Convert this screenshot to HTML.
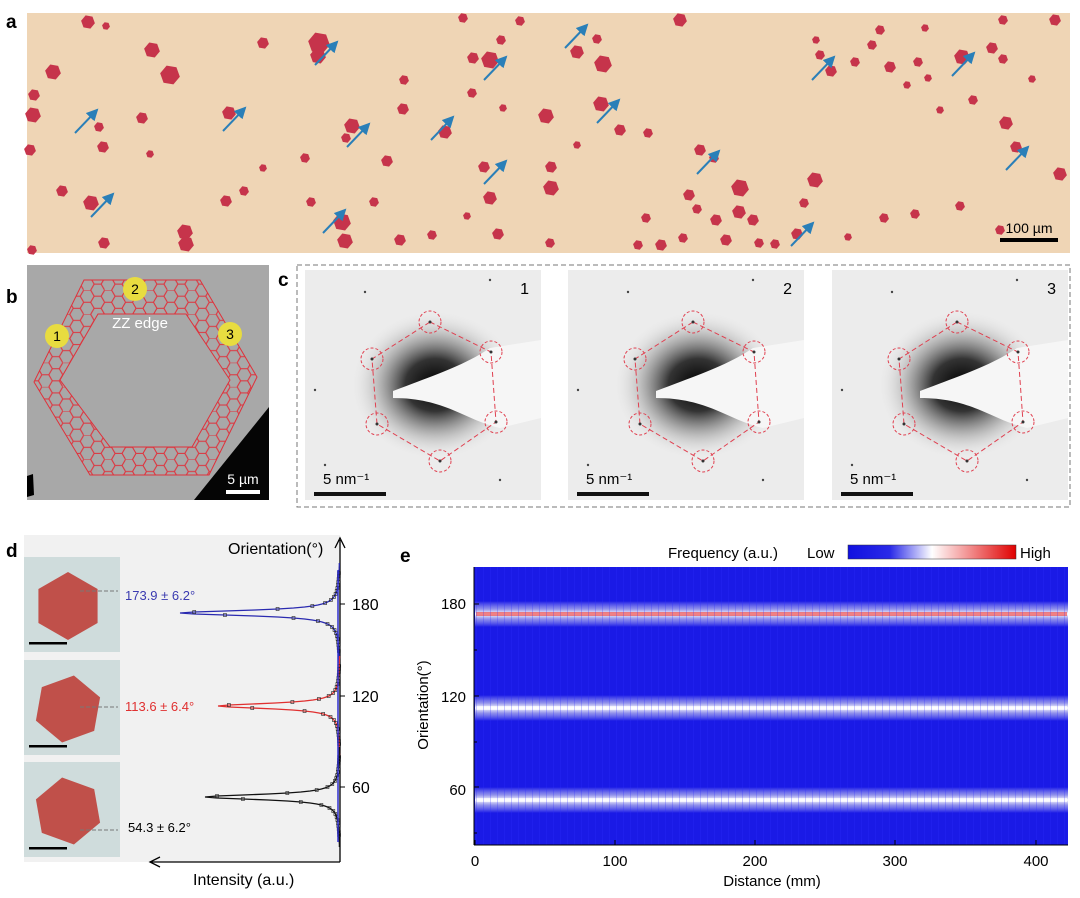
<!DOCTYPE html>
<html><head><meta charset="utf-8"><style>
html,body{margin:0;padding:0;background:#fff;}
svg{display:block;font-family:"Liberation Sans",Arial,sans-serif;}
</style></head><body>
<svg id="s" width="1080" height="898" viewBox="0 0 1080 898" xmlns="http://www.w3.org/2000/svg">
<defs>
<symbol id="hx" viewBox="-1 -1 2 2" overflow="visible"><polygon points="1,0 0.5,0.87 -0.5,0.87 -1,0 -0.5,-0.87 0.5,-0.87"/></symbol>
<marker id="ab" markerWidth="6" markerHeight="6" refX="5" refY="3" orient="auto"><path d="M0,0 L6,3 L0,6 z" fill="#2a7fb8"/></marker>
<pattern id="hc" width="13.5" height="15.6" patternUnits="userSpaceOnUse" patternTransform="scale(1.55)">
<path d="M0,0 L4.5,0 L6.75,3.9 L4.5,7.8 L0,7.8 M6.75,3.9 L11.25,3.9 L13.5,7.8 L11.25,11.7 L6.75,11.7 L4.5,15.6 M4.5,7.8 L6.75,11.7 M11.25,3.9 L13.5,0 M11.25,11.7 L13.5,15.6 M0,7.8 L-2.25,11.7" fill="none" stroke="#e0303a" stroke-width="0.7"/>
</pattern>
<radialGradient id="blob" cx="0.5" cy="0.5" r="0.5"><stop offset="0" stop-color="#000"/><stop offset="0.35" stop-color="#333"/><stop offset="0.7" stop-color="#aaa" stop-opacity="0.6"/><stop offset="1" stop-color="#eee" stop-opacity="0"/></radialGradient>
<linearGradient id="cb" x1="0" x2="1"><stop offset="0" stop-color="#1010e0"/><stop offset="0.25" stop-color="#2a2ae8"/><stop offset="0.5" stop-color="#fff"/><stop offset="0.75" stop-color="#f08080"/><stop offset="1" stop-color="#e00000"/></linearGradient>
<linearGradient id="band" x1="0" y1="0" x2="0" y2="1"><stop offset="0" stop-color="#fff" stop-opacity="0"/><stop offset="0.3" stop-color="#dde" stop-opacity="0.6"/><stop offset="0.5" stop-color="#fff"/><stop offset="0.7" stop-color="#dde" stop-opacity="0.6"/><stop offset="1" stop-color="#fff" stop-opacity="0"/></linearGradient>
<clipPath id="ring"><path clip-rule="evenodd" d="M84,280 L200,280 L257,377 L209,475 L90,475 L34,382 Z M98,314 L186,314 L230,380 L192,447 L110,447 L60,380 Z"/></clipPath>
</defs>

<!-- a -->
<text x="6" y="28" font-size="19" font-weight="bold">a</text>
<rect x="27" y="13" width="1043" height="240" fill="#efd5b5"/>
<g id="hexes" fill="#c6344b"></g>
<g id="arrows" stroke="#2a7fb8" stroke-width="2" marker-end="url(#ab)"></g>
<rect x="1000" y="238" width="58" height="4" fill="#000"/>
<text x="1029" y="233" font-size="14" text-anchor="middle">100 µm</text>

<!-- b -->
<text x="6" y="303" font-size="19" font-weight="bold">b</text>
<rect x="27" y="265" width="242" height="235" fill="#a8a8a8"/>
<polygon points="194,500 269,407 269,500" fill="#050505"/>
<path d="M27,476 L33,474 L34,495 L27,497Z" fill="#000"/>
<rect x="27" y="265" width="242" height="235" fill="url(#hc)" clip-path="url(#ring)"/>
<path fill="none" stroke="#e0303a" stroke-width="1" d="M84,280 L200,280 L257,377 L209,475 L90,475 L34,382 Z M98,314 L186,314 L230,380 L192,447 L110,447 L60,380 Z"/>
<text x="140" y="328" font-size="15" fill="#fff" text-anchor="middle">ZZ edge</text>
<g font-size="14" text-anchor="middle">
<circle cx="57" cy="336" r="12" fill="#e8dc40"/><text x="57" y="341">1</text>
<circle cx="135" cy="289" r="12" fill="#e8dc40"/><text x="135" y="294">2</text>
<circle cx="230" cy="334" r="12" fill="#e8dc40"/><text x="230" y="339">3</text>
</g>
<rect x="226" y="490" width="34" height="4" fill="#fff"/>
<text x="243" y="484" font-size="14" fill="#fff" text-anchor="middle">5 µm</text>

<!-- c -->
<text x="278" y="286" font-size="19" font-weight="bold">c</text>
<rect x="297" y="265" width="773" height="242" fill="none" stroke="#777" stroke-dasharray="5,3"/>
<g id="diff"></g>

<!-- d -->
<text x="6" y="557" font-size="19" font-weight="bold">d</text>
<rect x="24" y="535" width="316" height="327" fill="#f1f1f1"/>
<g id="ins"></g>
<line x1="340" y1="862" x2="340" y2="540" stroke="#000" stroke-width="1.3"/>
<path d="M335,548 L340,538 L345,548" fill="none" stroke="#000" stroke-width="1.3"/>
<line x1="340" y1="862" x2="150" y2="862" stroke="#000" stroke-width="1.3"/>
<path d="M160,857 L150,862 L160,867" fill="none" stroke="#000" stroke-width="1.3"/>
<g stroke="#000"><line x1="340" y1="604" x2="345" y2="604"/><line x1="340" y1="696" x2="345" y2="696"/><line x1="340" y1="787" x2="345" y2="787"/></g>
<g font-size="16"><text x="352" y="610">180</text><text x="352" y="702">120</text><text x="352" y="793">60</text></g>
<text x="228" y="554" font-size="16">Orientation(°)</text>
<text x="193" y="885" font-size="16">Intensity (a.u.)</text>
<text x="125" y="600" font-size="13" fill="#3a3ab0">173.9 ± 6.2°</text>
<text x="125" y="711" font-size="13" fill="#e03030">113.6 ± 6.4°</text>
<text x="128" y="832" font-size="13">54.3 ± 6.2°</text>
<g id="peaks"></g>

<!-- e -->
<text x="400" y="562" font-size="19" font-weight="bold">e</text>
<text x="668" y="558" font-size="15">Frequency (a.u.)</text>
<text x="807" y="558" font-size="15">Low</text>
<rect x="848" y="545" width="168" height="14" fill="url(#cb)" stroke="#333" stroke-width="0.5"/>
<text x="1020" y="558" font-size="15">High</text>
<rect x="474" y="567" width="594" height="278" fill="#1a1ae6"/>
<g id="hm"></g>
<g stroke="#000"><line x1="474" y1="567" x2="474" y2="845"/><line x1="474" y1="845" x2="1068" y2="845"/></g>
<g id="ticks" stroke="#000"></g>
<g font-size="15" text-anchor="end"><text x="466" y="609">180</text><text x="466" y="702">120</text><text x="466" y="795">60</text></g>
<g font-size="15" text-anchor="middle"><text x="475" y="866">0</text><text x="615" y="866">100</text><text x="755" y="866">200</text><text x="895" y="866">300</text><text x="1036" y="866">400</text></g>
<text x="772" y="886" font-size="15" text-anchor="middle">Distance (mm)</text>
<text x="428" y="705" font-size="15" text-anchor="middle" transform="rotate(-90 428 705)">Orientation(°)</text>
</svg>
<script>
var NS="http://www.w3.org/2000/svg";
function el(t,a,p){var e=document.createElementNS(NS,t);for(var k in a)e.setAttribute(k,a[k]);(p||document.getElementById('s')).appendChild(e);return e;}
var H=[[88,22,7],[106,26,4],[152,50,8],[170,75,10],[53,72,8],[34,95,6],[103,147,6],[99,127,5],[142,118,6],[150,154,4],[229,113,7],[263,43,6],[319,43,11],[318,56,8],[404,80,5],[352,126,8],[346,138,5],[387,161,6],[374,202,5],[342,222,9],[345,241,8],[244,191,5],[226,201,6],[185,232,8],[186,244,8],[104,243,6],[91,203,8],[62,191,6],[33,115,8],[30,150,6],[445,132,7],[484,167,6],[490,198,7],[498,234,6],[551,188,8],[551,167,6],[546,116,8],[490,60,9],[501,40,5],[577,52,7],[603,64,9],[597,39,5],[601,104,8],[620,130,6],[648,133,5],[680,20,7],[700,150,6],[714,158,5],[689,195,6],[697,209,5],[716,220,6],[740,188,9],[739,212,7],[753,220,6],[759,243,5],[726,240,6],[683,238,5],[661,245,6],[646,218,5],[775,244,5],[797,234,6],[815,180,8],[804,203,5],[848,237,4],[884,218,5],[915,214,5],[960,206,5],[1006,123,7],[1016,147,6],[1060,174,7],[1055,20,6],[1032,79,4],[1003,59,5],[973,100,5],[962,57,8],[992,48,6],[925,28,4],[890,67,6],[855,62,5],[872,45,5],[831,71,6],[816,40,4],[820,55,5],[918,62,5],[907,85,4],[928,78,4],[1000,230,5],[940,110,4],[1003,20,5],[880,30,5],[467,216,4],[577,145,4],[638,245,5],[263,168,4],[311,202,5],[305,158,5],[403,109,6],[472,93,5],[503,108,4],[520,21,5],[463,18,5],[473,58,6],[32,250,5],[550,243,5],[432,235,5],[400,240,6]];
var g=document.getElementById('hexes');
H.forEach(function(h){el('use',{href:'#hx',x:h[0]-h[2],y:h[1]-h[2],width:2*h[2],height:2*h[2],transform:'rotate(10 '+h[0]+' '+h[1]+')'},g);});
var A=[[75,133],[223,131],[315,65],[347,147],[431,140],[484,80],[565,48],[597,123],[484,184],[697,174],[323,233],[91,217],[812,80],[952,76],[1006,170],[791,246]];
var ga=document.getElementById('arrows');
A.forEach(function(a){el('line',{x1:a[0],y1:a[1],x2:a[0]+22,y2:a[1]-23},ga);});
var gd=document.getElementById('diff');
[305,568,832].forEach(function(x0,i){
 var y0=270,w=236,h=230;
 el('rect',{x:x0,y:y0,width:w,height:h,fill:'#ececec'},gd);
 el('ellipse',{cx:x0+130,cy:y0+115,rx:85,ry:75,fill:'url(#blob)'},gd);
 el('path',{d:'M'+(x0+88)+','+(y0+121)+' C'+(x0+130)+','+(y0+105)+' '+(x0+160)+','+(y0+95)+' '+(x0+185)+','+(y0+78)+' L'+(x0+w)+','+(y0+70)+' L'+(x0+w)+','+(y0+148)+' L'+(x0+195)+','+(y0+158)+' C'+(x0+160)+','+(y0+150)+' '+(x0+140)+','+(y0+128)+' '+(x0+88)+','+(y0+128)+'Z',fill:'#f6f6f6'},gd);
 var P=[[125,52],[186,82],[191,152],[135,191],[72,154],[67,89]];
 var d='M'+P.map(function(p){return (x0+p[0])+','+(y0+p[1]);}).join(' L')+'Z';
 el('path',{d:d,fill:'none',stroke:'#e04050','stroke-width':1,'stroke-dasharray':'5,3'},gd);
 P.forEach(function(p){el('circle',{cx:x0+p[0],cy:y0+p[1],r:11,fill:'none',stroke:'#e04050','stroke-dasharray':'3,2'},gd);el('circle',{cx:x0+p[0],cy:y0+p[1],r:1.5,fill:'#333'},gd);});
 [[60,22],[185,10],[10,120],[195,210],[20,195]].forEach(function(p){el('circle',{cx:x0+p[0],cy:y0+p[1],r:1.2,fill:'#444'},gd);});
 el('rect',{x:x0+9,y:y0+222,width:72,height:4,fill:'#111'},gd);
 var t=el('text',{x:x0+18,y:y0+214,'font-size':15},gd);t.textContent='5 nm⁻¹';
 var n=el('text',{x:x0+w-12,y:y0+24,'font-size':16,'text-anchor':'end'},gd);n.textContent=String(i+1);
});
var gi=document.getElementById('ins');
[[557,90],[660,100],[762,80]].forEach(function(r,i){
 el('rect',{x:24,y:r[0],width:96,height:95,fill:'#cfdcdc'},gi);
 el('use',{href:'#hx',x:34,y:r[0]+15,width:68,height:68,fill:'#c0504a',transform:'rotate('+r[1]+' 68 '+(r[0]+49)+')'},gi);
 el('rect',{x:29,y:r[0]+85,width:38,height:2.5,fill:'#000'},gi);
 var ly=r[0]+(i==2?68:i==1?47:34);
 el('line',{x1:80,y1:ly,x2:118,y2:ly,stroke:'#777','stroke-dasharray':'4,2'},gi);
});
var gp=document.getElementById('peaks');
function pk(y0,A,w,col){var s='';for(var y=y0-50;y<=y0+50;y+=1){var x=340-A/(1+Math.pow((y-y0)/w,2));s+=(s?' L':'M')+x.toFixed(1)+','+y;}
 el('path',{d:s,fill:'none',stroke:col,'stroke-width':1.3},gp);
 for(var y=y0-40;y<=y0+40;y+=3){var x=340-A/(1+Math.pow((y-y0)/w,2));el('rect',{x:x-1.5,y:y-1.5,width:3,height:3,fill:'none',stroke:'#222','stroke-width':0.6},gp);}}
pk(613,160,3.2,'#2a2ab0');pk(706,122,3.2,'#e03030');pk(797,135,3.2,'#111');
el('line',{x1:338,y1:570,x2:338,y2:842,stroke:'#3030d0','stroke-width':1.5},gp);
var gh=document.getElementById('hm');
[[614,'#f05050'],[708,'#ffffff'],[800,'#ffffff']].forEach(function(b){
 el('rect',{x:475,y:b[0]-13,width:593,height:26,fill:'url(#band)'},gh);
 el('rect',{x:476,y:b[0]-2,width:591,height:4,fill:b[1],opacity:0.7},gh);
});
for(var x=476;x<1068;x+=7){el('rect',{x:x,y:567,width:1,height:278,fill:'#3030ff',opacity:0.25},gh);}
var gt=document.getElementById('ticks');
[604,650,696,742,787,833].forEach(function(y,i){el('line',{x1:474,y1:y,x2:i%2?477:479,y2:y},gt);});
[475,615,755,895,1036].forEach(function(x){el('line',{x1:x,y1:845,x2:x,y2:840},gt);});
</script>
</body></html>
